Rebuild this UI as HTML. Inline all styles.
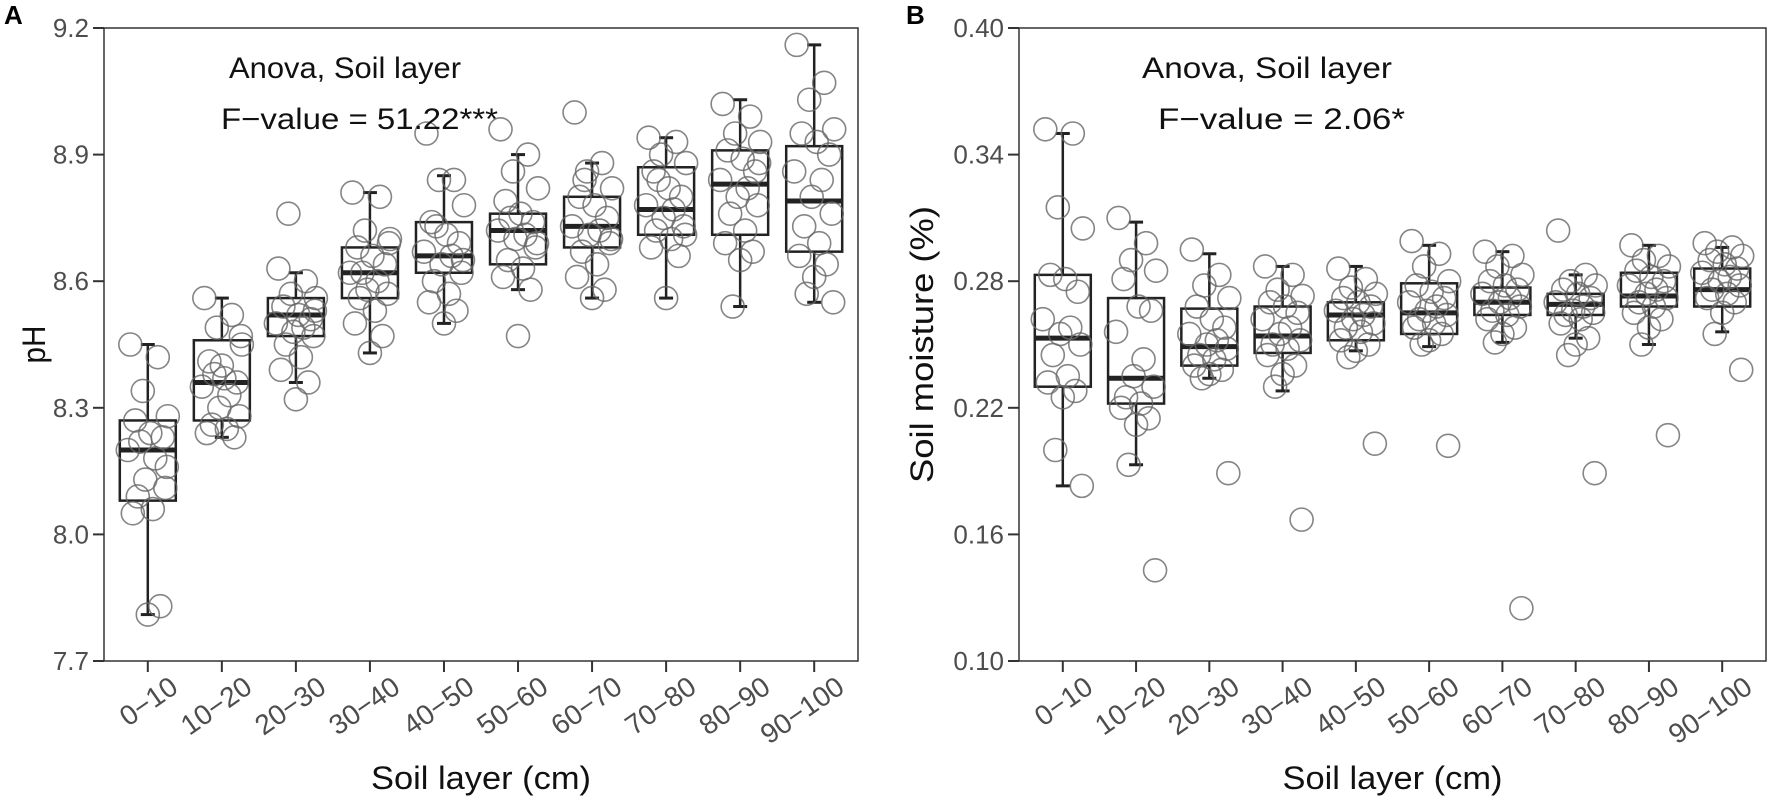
<!DOCTYPE html>
<html><head><meta charset="utf-8"><style>
body{margin:0;background:#fff;}
svg{display:block;font-family:"Liberation Sans",Arial,sans-serif;}
</style></head><body>
<svg id="chart" width="1772" height="805" viewBox="0 0 1772 805">
</svg>
<script>
const categories=["0−10","10−20","20−30","30−40","40−50","50−60","60−70","70−80","80−90","90−100"];
// panel A (pH): [lowerWhisker, q1, median, q3, upperWhisker]
const phStats=[[7.81,8.08,8.20,8.27,8.45],[8.23,8.27,8.36,8.46,8.56],[8.36,8.47,8.52,8.56,8.62],[8.43,8.56,8.62,8.68,8.81],[8.50,8.62,8.66,8.74,8.85],[8.58,8.64,8.72,8.76,8.90],[8.56,8.68,8.73,8.80,8.88],[8.56,8.71,8.77,8.87,8.94],[8.54,8.71,8.83,8.91,9.03],[8.55,8.67,8.79,8.92,9.16]];
const phPoints=[
[8.45,8.42,8.34,8.28,8.27,8.24,8.23,8.2,8.18,8.13,8.11,8.09,8.06,8.05,7.83,7.81,8.22,8.16],
[8.56,8.52,8.49,8.45,8.41,8.37,8.36,8.35,8.33,8.3,8.28,8.26,8.25,8.24,8.23,8.4,8.38,8.47],
[8.63,8.6,8.57,8.56,8.54,8.52,8.51,8.5,8.49,8.48,8.47,8.45,8.42,8.39,8.36,8.32,8.76,8.53],
[8.81,8.8,8.72,8.7,8.68,8.66,8.64,8.62,8.6,8.58,8.57,8.56,8.53,8.5,8.47,8.43,8.62,8.69],
[8.95,8.84,8.84,8.78,8.74,8.71,8.69,8.67,8.66,8.64,8.62,8.6,8.57,8.55,8.53,8.5,8.73,8.65],
[8.96,8.9,8.86,8.82,8.79,8.76,8.74,8.72,8.71,8.7,8.68,8.65,8.63,8.61,8.58,8.47,8.75,8.69],
[9.0,8.88,8.86,8.82,8.8,8.78,8.75,8.73,8.72,8.71,8.69,8.67,8.64,8.61,8.58,8.56,8.84,8.7],
[8.94,8.93,8.9,8.88,8.86,8.82,8.8,8.78,8.77,8.75,8.73,8.72,8.7,8.68,8.66,8.56,8.84,8.71],
[9.02,8.99,8.95,8.93,8.91,8.89,8.86,8.84,8.82,8.8,8.78,8.76,8.72,8.69,8.67,8.65,8.54,8.88],
[9.16,9.07,9.03,8.96,8.95,8.93,8.9,8.86,8.84,8.8,8.76,8.73,8.69,8.66,8.64,8.61,8.57,8.55]];
const phTicks=[7.7,8.0,8.3,8.6,8.9,9.2];
const phTickLabels=["7.7","8.0","8.3","8.6","8.9","9.2"];
// panel B (soil moisture)
const smStats=[[0.183,0.230,0.253,0.283,0.350],[0.193,0.222,0.234,0.272,0.308],[0.234,0.240,0.249,0.267,0.293],[0.228,0.246,0.254,0.268,0.287],[0.247,0.252,0.264,0.270,0.287],[0.249,0.255,0.265,0.279,0.297],[0.251,0.264,0.270,0.277,0.294],[0.253,0.264,0.269,0.274,0.283],[0.250,0.268,0.273,0.284,0.297],[0.256,0.268,0.276,0.286,0.296]];
const smPoints=[
[0.352,0.350,0.315,0.305,0.283,0.281,0.275,0.262,0.258,0.255,0.250,0.245,0.235,0.232,0.228,0.225,0.200,0.183],
[0.310,0.298,0.290,0.285,0.281,0.268,0.266,0.256,0.243,0.235,0.230,0.225,0.222,0.220,0.215,0.212,0.193,0.143],
[0.295,0.283,0.278,0.272,0.268,0.262,0.258,0.255,0.252,0.250,0.248,0.245,0.243,0.240,0.238,0.236,0.234,0.189],
[0.287,0.283,0.276,0.273,0.270,0.268,0.265,0.262,0.258,0.255,0.252,0.250,0.248,0.245,0.240,0.236,0.230,0.167],
[0.286,0.281,0.277,0.274,0.272,0.270,0.268,0.266,0.264,0.262,0.260,0.258,0.256,0.252,0.250,0.247,0.244,0.203],
[0.299,0.293,0.287,0.280,0.278,0.275,0.272,0.270,0.268,0.266,0.264,0.262,0.260,0.258,0.255,0.252,0.250,0.202],
[0.294,0.292,0.287,0.283,0.280,0.278,0.276,0.274,0.272,0.270,0.268,0.266,0.264,0.262,0.258,0.255,0.251,0.125],
[0.304,0.283,0.280,0.278,0.276,0.274,0.272,0.270,0.268,0.266,0.265,0.264,0.262,0.260,0.253,0.250,0.245,0.189],
[0.297,0.292,0.290,0.287,0.285,0.282,0.280,0.278,0.276,0.274,0.272,0.270,0.268,0.265,0.262,0.258,0.250,0.207],
[0.298,0.296,0.294,0.292,0.290,0.288,0.286,0.284,0.282,0.280,0.278,0.276,0.274,0.272,0.270,0.265,0.255,0.238]];
const smTicks=[0.10,0.16,0.22,0.28,0.34,0.40];
const smTickLabels=["0.10","0.16","0.22","0.28","0.34","0.40"];

const NS="http://www.w3.org/2000/svg";
const svg=document.getElementById('chart');
function mk(tag,attrs,parent,text){const e=document.createElementNS(NS,tag);for(const k in attrs)e.setAttribute(k,attrs[k]);if(text!==undefined)e.textContent=text;(parent||svg).appendChild(e);return e;}
const jit=[-0.35,0.2,-0.1,0.4,-0.25,0.05,0.3,-0.4,0.15,-0.05,0.35,-0.2,0.1,-0.3,0.25,0,-0.15,0.38];

function panel(o){
  const g=mk('g',{});
  
  
  const L=o.left,R=o.right,T=28,B=661,step=73;
  const y=v=>B-(v-o.min)/(o.max-o.min)*(B-T);
  const x=i=>L+0.6*step+i*step*(R-L-1.2*step)/(9*step);
  const fr=mk('rect',{x:L,y:T,width:R-L,height:B-T,fill:'none',stroke:'#333','stroke-width':1.5},g);
  
  
  o.ticks.forEach((t,k)=>{
    const tk=mk('line',{x1:L-11,x2:L,y1:y(t),y2:y(t),stroke:'#333','stroke-width':2},g);
    
    
    const tl=mk('text',{x:L-15,y:y(t)+9,'text-anchor':'end','font-size':26,fill:'#4d4d4d'},g,o.tickLabels[k]);
    
    
  });
  categories.forEach((c,i)=>{
    const cx=x(i);
    const tk=mk('line',{x1:cx,x2:cx,y1:B,y2:B+11,stroke:'#333','stroke-width':2},g);
    
    
    const tl=mk('text',{x:cx+32,y:B+30,'text-anchor':'end','font-size':28,fill:'#4d4d4d',transform:`rotate(-35 ${cx+32} ${B+30})`},g,c);
    
    
    const s=o.stats[i],bw=56,cap=14;
    const bx=mk('g',{},g);
    
    
    mk('line',{x1:cx,x2:cx,y1:y(s[0]),y2:y(s[1]),stroke:'#222','stroke-width':2.5},bx);
    mk('line',{x1:cx,x2:cx,y1:y(s[3]),y2:y(s[4]),stroke:'#222','stroke-width':2.5},bx);
    mk('line',{x1:cx-cap/2,x2:cx+cap/2,y1:y(s[0]),y2:y(s[0]),stroke:'#222','stroke-width':3},bx);
    mk('line',{x1:cx-cap/2,x2:cx+cap/2,y1:y(s[4]),y2:y(s[4]),stroke:'#222','stroke-width':3},bx);
    mk('rect',{x:cx-bw/2,y:y(s[3]),width:bw,height:y(s[1])-y(s[3]),fill:'none',stroke:'#222','stroke-width':2.5},bx);
    mk('line',{x1:cx-bw/2,x2:cx+bw/2,y1:y(s[2]),y2:y(s[2]),stroke:'#222','stroke-width':5},bx);
    o.points[i].forEach((v,j)=>{
      const p=mk('circle',{cx:cx+jit[j%jit.length]*50,cy:y(v),r:11.5,fill:'none',stroke:'#666','stroke-opacity':0.8,'stroke-width':1.6},g);
      
      
    });
  });
  const a1=mk('text',{x:o.t1x,y:78,'font-size':30,fill:'#111',textLength:o.t1w,lengthAdjust:'spacingAndGlyphs'},g,'Anova, Soil layer');
  
  
  const a2=mk('text',{x:o.t2x,y:129,'font-size':30,fill:'#111',textLength:o.t2w,lengthAdjust:'spacingAndGlyphs'},g,o.ftext);
  
  
  const xt=mk('text',{x:(L+R)/2,y:789,'text-anchor':'middle','font-size':32,fill:'#111',textLength:220,lengthAdjust:'spacingAndGlyphs'},g,'Soil layer (cm)');
  
  
  const yt=mk('text',{x:o.ytx,y:(T+B)/2,'text-anchor':'middle','font-size':32,fill:'#111',transform:`rotate(-90 ${o.ytx} ${(T+B)/2})`,textLength:o.ytw,lengthAdjust:'spacingAndGlyphs'},g,o.ytitle);
  
  
  const pl=mk('text',{x:o.lx,y:24,'font-size':26,'font-weight':'bold',fill:'#000'},g,o.letter);
  
  
}
panel({name:'panel-a-ph',left:104,right:858,min:7.7,max:9.2,ticks:phTicks,tickLabels:phTickLabels,stats:phStats,points:phPoints,t1x:229,t1w:232,t2x:221,t2w:277,ftext:'F−value = 51.22***',ytitle:'pH',ytx:45,ytw:38,letter:'A',lx:4});
panel({name:'panel-b-moisture',left:1019,right:1766,min:0.10,max:0.40,ticks:smTicks,tickLabels:smTickLabels,stats:smStats,points:smPoints,t1x:1142,t1w:250,t2x:1158,t2w:247,ftext:'F−value = 2.06*',ytitle:'Soil moisture (%)',ytx:933,ytw:277,letter:'B',lx:906});
</script>
</body></html>
